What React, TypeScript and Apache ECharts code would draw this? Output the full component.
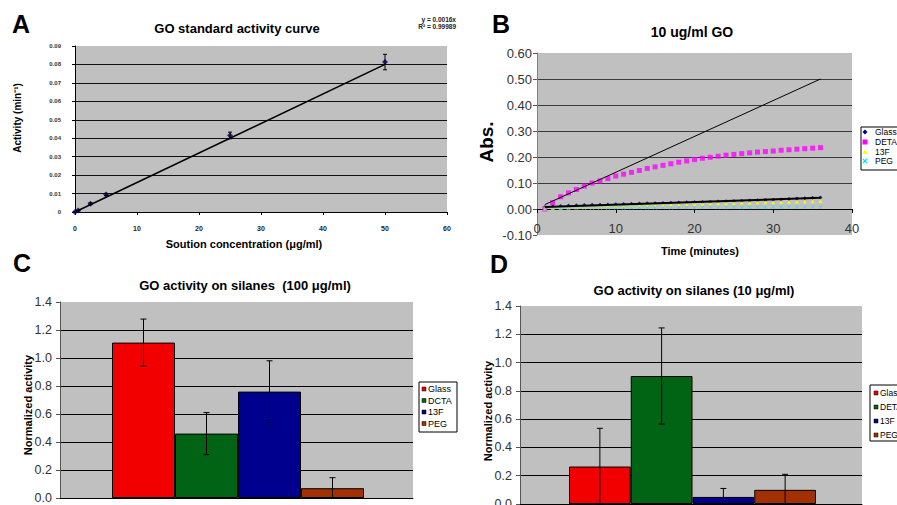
import React, { useEffect, useRef } from "react";
import * as echarts from "echarts";

// ---------- Panel A: GO standard activity curve ----------
const concA = [0, 0.5, 2.5, 5, 25, 50];
const activityA = [0, 0.0008, 0.0045, 0.0095, 0.0415, 0.0813];
const errA = [0.0003, 0.0003, 0.0005, 0.0006, 0.0018, 0.0042];
const trendA = [[0, 0], [50, 0.08]];
const equationA = ["y = 0.0016x", "R² = 0.99989"];

// ---------- Panel B: 10 ug/ml GO (Abs. vs time) ----------
const tB = [1, 2, 3, 4, 5, 6, 7, 8, 9, 10, 11, 12, 13, 14, 15, 16, 17, 18, 19, 20, 21, 22, 23, 24, 25, 26, 27, 28, 29, 30, 31, 32, 33, 34, 35, 36];
const glassB = [0.008, 0.011, 0.012, 0.013, 0.014, 0.015, 0.016, 0.016, 0.017, 0.018, 0.019, 0.02, 0.021, 0.022, 0.022, 0.023, 0.024, 0.025, 0.026, 0.027, 0.027, 0.028, 0.029, 0.03, 0.031, 0.032, 0.033, 0.034, 0.035, 0.036, 0.037, 0.038, 0.04, 0.041, 0.043, 0.044];
const detaB = [0.0, 0.025, 0.047, 0.062, 0.075, 0.088, 0.1, 0.108, 0.117, 0.127, 0.134, 0.141, 0.148, 0.156, 0.162, 0.168, 0.174, 0.18, 0.185, 0.19, 0.195, 0.199, 0.203, 0.207, 0.21, 0.213, 0.216, 0.219, 0.221, 0.223, 0.226, 0.228, 0.23, 0.232, 0.234, 0.236];
const f13B = [0.002, 0.004, 0.005, 0.006, 0.007, 0.008, 0.009, 0.01, 0.011, 0.012, 0.012, 0.013, 0.014, 0.015, 0.016, 0.016, 0.017, 0.018, 0.019, 0.02, 0.02, 0.021, 0.022, 0.022, 0.023, 0.024, 0.024, 0.025, 0.026, 0.026, 0.027, 0.028, 0.028, 0.029, 0.03, 0.031];
const pegB = [0.0, 0.003, 0.002, 0.003, 0.004, 0.003, 0.004, 0.005, 0.004, 0.005, 0.004, 0.005, 0.006, 0.005, 0.005, 0.006, 0.005, 0.006, 0.006, 0.005, 0.006, 0.007, 0.006, 0.006, 0.007, 0.006, 0.007, 0.007, 0.006, 0.007, 0.007, 0.008, 0.007, 0.007, 0.008, 0.007];
const trendBig = [[1, 0.017], [36, 0.5]];
const trendGlass = [[1, 0.008], [36, 0.043]];
const legendB = ["Glass", "DETA", "13F", "PEG"];

// ---------- Panel C: GO activity on silanes (100 ug/ml) ----------
const catsC = ["Glass", "DCTA", "13F", "PEG"];
const valuesC = [1.11, 0.46, 0.76, 0.07];
const errC = [0.168, 0.15, 0.22, 0.075];

// ---------- Panel D: GO activity on silanes (10 ug/ml) ----------
const catsD = ["Glass", "DETA", "13F", "PEG"];
const valuesD = [0.265, 0.905, 0.05, 0.1];
const errD = [0.27, 0.34, 0.06, 0.11];

const barColors = ["#f20000", "#006414", "#00008f", "#a33000"];
const FONT = "'Liberation Sans', Arial, Helvetica, sans-serif";
const PLOT_BG = "#c0c0c0";

function errSeries(xi: number, yi: number, data: number[][], cap: number, yMin: number) {
  return {
    type: "custom",
    xAxisIndex: xi,
    yAxisIndex: yi,
    z: 6,
    silent: true,
    data,
    renderItem: (_p: any, api: any) => {
      const x = api.value(0);
      const lo = api.value(1);
      const hi = api.value(2);
      const a = api.coord([x, Math.max(lo, yMin)]);
      const b = api.coord([x, hi]);
      const st = { stroke: "#000", lineWidth: 1 };
      const children: any[] = [
        { type: "line", shape: { x1: a[0], y1: a[1], x2: b[0], y2: b[1] }, style: st },
        { type: "line", shape: { x1: b[0] - cap, y1: b[1], x2: b[0] + cap, y2: b[1] }, style: st },
      ];
      if (lo > yMin) {
        children.push({ type: "line", shape: { x1: a[0] - cap, y1: a[1], x2: a[0] + cap, y2: a[1] }, style: st });
      }
      return { type: "group", children };
    },
  };
}

function txt(text: string, x: number, y: number, size: number, bold = true, extra: any = {}) {
  return {
    type: "text",
    x,
    y,
    z: 20,
    ...extra,
    style: {
      text,
      fontSize: size,
      fontWeight: bold ? "bold" : "normal",
      fontFamily: FONT,
      fill: "#000",
      align: "center",
      verticalAlign: "middle",
      ...(extra.style || {}),
    },
  };
}

function legendBox(x: number, y: number, w: number, h: number) {
  return { type: "rect", z: 18, shape: { x, y, width: w, height: h }, style: { fill: "#fff", stroke: "#000", lineWidth: 1 } };
}

function legendSquares(names: string[], x: number, ys: number[], size: number) {
  const els: any[] = [];
  names.forEach((n, i) => {
    els.push({ type: "rect", z: 19, shape: { x: x, y: ys[i] - 2, width: 4, height: 4 }, style: { fill: barColors[i], stroke: "#000", lineWidth: 0.5 } });
    els.push({ type: "text", z: 19, x: x + 6, y: ys[i], style: { text: n, fontSize: size, fontFamily: FONT, fill: "#000", align: "left", verticalAlign: "middle" } });
  });
  return els;
}

const X_SYMBOL = "path://M0,1L1,0L5,4L9,0L10,1L6,5L10,9L9,10L5,6L1,10L0,9L4,5Z";

export default function App() {
  const ref = useRef<HTMLDivElement>(null);
  useEffect(() => {
    if (!ref.current) return;
    const chart = echarts.init(ref.current, null, { renderer: "svg" });

    const yLegB = [132, 142, 152, 161];
    const bLegendEls: any[] = [
      legendBox(861, 127, 45, 43),
      { type: "polygon", z: 19, shape: { points: [[865, yLegB[0] - 2.5], [867.5, yLegB[0]], [865, yLegB[0] + 2.5], [862.5, yLegB[0]]] }, style: { fill: "#000080" } },
      { type: "rect", z: 19, shape: { x: 862.5, y: yLegB[1] - 2.5, width: 5, height: 5 }, style: { fill: "#ff00ff" } },
      { type: "polygon", z: 19, shape: { points: [[865, yLegB[2] - 2.5], [867.5, yLegB[2] + 2], [862.5, yLegB[2] + 2]] }, style: { fill: "#ffff00" } },
      { type: "line", z: 19, shape: { x1: 863, y1: yLegB[3] - 2, x2: 867, y2: yLegB[3] + 2 }, style: { stroke: "#00e5ff", lineWidth: 1.2 } },
      { type: "line", z: 19, shape: { x1: 867, y1: yLegB[3] - 2, x2: 863, y2: yLegB[3] + 2 }, style: { stroke: "#00e5ff", lineWidth: 1.2 } },
      ...legendB.map((n, i) => ({ type: "text", z: 19, x: 875, y: yLegB[i], style: { text: n, fontSize: 8.5, fontFamily: FONT, fill: "#000", align: "left", verticalAlign: "middle" } })),
    ];

    const option: any = {
      animation: false,
      backgroundColor: "#fff",
      textStyle: { fontFamily: FONT },
      grid: [
        { left: 75, top: 46, width: 372, height: 166, show: true, backgroundColor: PLOT_BG, borderWidth: 0, containLabel: false, outerBoundsMode: "none" },
        { left: 537, top: 53, width: 315, height: 182, show: true, backgroundColor: PLOT_BG, borderWidth: 0, containLabel: false, outerBoundsMode: "none" },
        { left: 60, top: 302, width: 353, height: 196, show: true, backgroundColor: PLOT_BG, borderWidth: 0, containLabel: false, outerBoundsMode: "none" },
        { left: 112, top: 302, width: 252, height: 196, containLabel: false, outerBoundsMode: "none" },
        { left: 520, top: 306, width: 342, height: 198, show: true, backgroundColor: PLOT_BG, borderWidth: 0, containLabel: false, outerBoundsMode: "none" },
        { left: 569, top: 306, width: 247, height: 198, containLabel: false, outerBoundsMode: "none" },
      ],
      xAxis: [
        {
          gridIndex: 0, type: "value", min: 0, max: 60, interval: 10,
          axisLine: { show: true, onZero: false, lineStyle: { color: "#000", width: 1 } },
          axisTick: { show: true, length: 3, lineStyle: { color: "#000" } },
          splitLine: { show: false },
          axisLabel: { fontSize: 7, fontWeight: "bold", color: "#222", margin: 13 },
        },
        {
          gridIndex: 1, type: "value", min: 0, max: 40, interval: 10,
          axisLine: { show: true, onZero: true, lineStyle: { color: "#000", width: 1 } },
          axisTick: { show: true, length: 4, lineStyle: { color: "#000" } },
          splitLine: { show: false },
          axisLabel: { fontSize: 13, color: "#333", margin: -13 },
        },
        {
          gridIndex: 2, type: "value", min: 0, max: 1, show: true,
          axisLine: { show: true, lineStyle: { color: "#000" } },
          axisTick: { show: false }, axisLabel: { show: false }, splitLine: { show: false },
        },
        { gridIndex: 3, type: "category", data: catsC, show: false, boundaryGap: true },
        {
          gridIndex: 4, type: "value", min: 0, max: 1, show: true,
          axisLine: { show: true, lineStyle: { color: "#000" } },
          axisTick: { show: false }, axisLabel: { show: false }, splitLine: { show: false },
        },
        { gridIndex: 5, type: "category", data: catsD, show: false, boundaryGap: true },
      ],
      yAxis: [
        {
          gridIndex: 0, type: "value", min: 0, max: 0.09, interval: 0.01,
          axisLine: { show: true, lineStyle: { color: "#000" } },
          axisTick: { show: true, length: 3, lineStyle: { color: "#000" } },
          splitLine: { show: true, showMaxLine: false, lineStyle: { color: "#111", width: 1 } },
          axisLabel: { fontSize: 6, fontWeight: "bold", color: "#333", margin: 14, formatter: (v: number) => (v === 0 ? "0" : v.toFixed(2)) },
        },
        {
          gridIndex: 1, type: "value", min: -0.1, max: 0.6, interval: 0.1,
          axisLine: { show: true, lineStyle: { color: "#808080" } },
          axisTick: { show: true, length: 4, lineStyle: { color: "#555" } },
          splitLine: { show: true, showMaxLine: false, showMinLine: false, lineStyle: { color: "#3a3a3a", width: 1 } },
          axisLabel: { fontSize: 13, color: "#333", margin: 5, formatter: (v: number) => v.toFixed(2) },
        },
        {
          gridIndex: 2, type: "value", min: 0, max: 1.4, interval: 0.2,
          axisLine: { show: true, lineStyle: { color: "#555" } },
          axisTick: { show: true, length: 4, lineStyle: { color: "#555" } },
          splitLine: { show: true, showMaxLine: false, lineStyle: { color: "#000", width: 1 } },
          axisLabel: { fontSize: 12.5, color: "#333", margin: 8, formatter: (v: number) => v.toFixed(1) },
        },
        { gridIndex: 3, type: "value", min: 0, max: 1.4, show: false },
        {
          gridIndex: 4, type: "value", min: 0, max: 1.4, interval: 0.2,
          axisLine: { show: true, lineStyle: { color: "#555" } },
          axisTick: { show: true, length: 4, lineStyle: { color: "#555" } },
          splitLine: { show: true, showMaxLine: false, lineStyle: { color: "#000", width: 1 } },
          axisLabel: { fontSize: 12.5, color: "#333", margin: 8, formatter: (v: number) => v.toFixed(1) },
        },
        { gridIndex: 5, type: "value", min: 0, max: 1.4, show: false },
      ],
      series: [
        // Panel A
        {
          type: "scatter", name: "GO", xAxisIndex: 0, yAxisIndex: 0, z: 4,
          symbol: "diamond", symbolSize: 6, itemStyle: { color: "#000080" },
          data: concA.map((x, i) => [x, activityA[i]]),
        },
        {
          type: "line", name: "Linear", xAxisIndex: 0, yAxisIndex: 0, z: 5,
          symbol: "none", lineStyle: { color: "#000", width: 1.5 }, data: trendA,
        },
        errSeries(0, 0, concA.map((x, i) => [x, activityA[i] - errA[i], activityA[i] + errA[i]]), 2, 0),
        // Panel B
        {
          type: "scatter", name: "Glass", xAxisIndex: 1, yAxisIndex: 1, z: 3,
          symbol: "diamond", symbolSize: 4, itemStyle: { color: "#000080" },
          data: tB.map((t, i) => [t, glassB[i]]),
        },
        {
          type: "scatter", name: "DETA", xAxisIndex: 1, yAxisIndex: 1, z: 3,
          symbol: "rect", symbolSize: 5, itemStyle: { color: "#ff00ff" },
          data: tB.map((t, i) => [t, detaB[i]]),
        },
        {
          type: "scatter", name: "13F", xAxisIndex: 1, yAxisIndex: 1, z: 3,
          symbol: "triangle", symbolSize: 4, itemStyle: { color: "#ffff00" },
          data: tB.map((t, i) => [t, f13B[i]]),
        },
        {
          type: "scatter", name: "PEG", xAxisIndex: 1, yAxisIndex: 1, z: 3,
          symbol: X_SYMBOL, symbolSize: 4, itemStyle: { color: "#00e5ff" },
          data: tB.map((t, i) => [t, pegB[i]]),
        },
        {
          type: "line", name: "Linear (DETA)", xAxisIndex: 1, yAxisIndex: 1, z: 5,
          symbol: "none", lineStyle: { color: "#000", width: 1 }, data: trendBig,
        },
        {
          type: "line", name: "Linear (Glass)", xAxisIndex: 1, yAxisIndex: 1, z: 5,
          symbol: "none", lineStyle: { color: "#000", width: 2 }, data: trendGlass,
        },
        // Panel C
        {
          type: "bar", name: "C", xAxisIndex: 3, yAxisIndex: 3, z: 3,
          barCategoryGap: "0%",
          data: valuesC.map((v, i) => ({ value: v, itemStyle: { color: barColors[i], borderColor: "#000", borderWidth: 1 } })),
        },
        errSeries(3, 3, valuesC.map((v, i) => [i, v - errC[i], v + errC[i]]), 3, 0),
        // Panel D
        {
          type: "bar", name: "D", xAxisIndex: 5, yAxisIndex: 5, z: 3,
          barCategoryGap: "0%",
          data: valuesD.map((v, i) => ({ value: v, itemStyle: { color: barColors[i], borderColor: "#000", borderWidth: 1 } })),
        },
        errSeries(5, 5, valuesD.map((v, i) => [i, v - errD[i], v + errD[i]]), 3, 0),
      ],
      graphic: [
        // panel letters
        txt("A", 21, 24, 25),
        txt("B", 501, 24, 25),
        txt("C", 22, 263, 25),
        txt("D", 499, 264, 25),
        // titles
        txt("GO standard activity curve", 237, 28, 13),
        txt("10 ug/ml GO", 692, 32, 14),
        txt("GO activity on silanes  (100 μg/ml)", 245, 285, 13),
        txt("GO activity on silanes (10 μg/ml)", 694, 290, 13),
        // axis names
        txt("Soution concentration (μg/ml)", 244, 244, 11),
        txt("Activity (min⁻¹)", 17, 118, 10, true, { rotation: Math.PI / 2 }),
        txt("Time (minutes)", 700, 251, 11),
        txt("Abs.", 486, 142, 19, true, { rotation: Math.PI / 2 }),
        txt("Normalized activity", 28, 405, 11, true, { rotation: Math.PI / 2 }),
        txt("Normalized activity", 488, 411, 11, true, { rotation: Math.PI / 2 }),
        // trendline equation
        txt(equationA[0], 456, 19, 6.5, true, { style: { align: "right", fill: "#222" } }),
        txt(equationA[1], 456, 26, 6.5, true, { style: { align: "right", fill: "#222" } }),
        // legends
        ...bLegendEls,
        legendBox(419, 382, 38, 50),
        ...legendSquares(catsC, 422, [389, 400.5, 412, 423.5], 9),
        legendBox(870, 385, 40, 56),
        ...legendSquares(catsD, 874, [393, 407, 421, 435], 8.5),
      ],
    };

    chart.setOption(option);
    return () => chart.dispose();
  }, []);

  return <div ref={ref} style={{ position: "absolute", left: 0, top: 0, width: 897, height: 505 }} />;
}
